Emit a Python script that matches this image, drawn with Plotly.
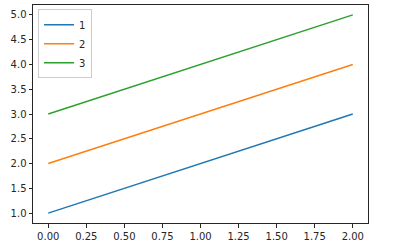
import plotly.graph_objects as go

x_vals = [0, 1, 2]
series_names = ["1", "2", "3"]
series_1 = [1, 2, 3]
series_2 = [2, 3, 4]
series_3 = [3, 4, 5]
colors = ["#1f77b4", "#ff7f0e", "#2ca02c"]
x_ticks = [0.0, 0.25, 0.5, 0.75, 1.0, 1.25, 1.5, 1.75, 2.0]
y_ticks = [1.0, 1.5, 2.0, 2.5, 3.0, 3.5, 4.0, 4.5, 5.0]

fig = go.Figure()
for name, ys, c in zip(series_names, [series_1, series_2, series_3], colors):
    fig.add_trace(go.Scatter(x=x_vals, y=ys, mode="lines", name=name,
                             line=dict(color=c, width=1.5)))

axis_common = dict(showgrid=False, zeroline=False, showline=True, linecolor="#262626",
                   linewidth=1, mirror=True, ticks="outside", ticklen=3.5, tickwidth=1,
                   tickcolor="#262626", tickfont=dict(family="DejaVu Sans", size=10, color="#262626"))
fig.update_xaxes(range=[-0.1, 2.1], tickvals=x_ticks,
                 ticktext=[f"{v:.2f}" for v in x_ticks], **axis_common)
fig.update_yaxes(range=[0.8, 5.2], tickvals=y_ticks,
                 ticktext=[f"{v:.1f}" for v in y_ticks], **axis_common)

fig.update_layout(
    width=399, height=249,
    margin=dict(l=33, r=31, t=5, b=26),
    plot_bgcolor="white", paper_bgcolor="white",
    font=dict(family="DejaVu Sans", size=10, color="#262626"),
    legend=dict(x=0.015, y=0.98, xanchor="left", yanchor="top",
                bgcolor="rgba(255,255,255,0.8)", bordercolor="#cccccc", borderwidth=1,
                font=dict(size=10), tracegroupgap=0, itemwidth=30),
)
fig.write_html("out.html")
